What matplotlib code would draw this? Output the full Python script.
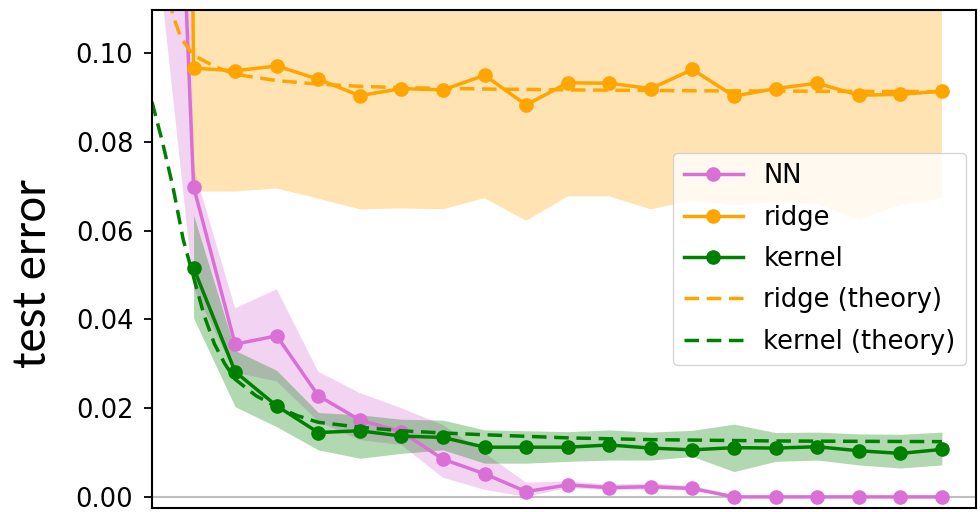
import numpy as np
import matplotlib.pyplot as plt

# experimental points (x = sample index, 0 is an off-scale starting value)
nn_x = list(range(0, 20))
nn_mean = [0.30, 0.0699, 0.0344, 0.0363, 0.0228, 0.0173, 0.0147, 0.0085, 0.0052, 0.0012,
           0.0027, 0.0021, 0.0023, 0.0019, 0.0, 0.0, 0.0, 0.0, 0.0, 0.0]
nn_lower = [0.134, 0.047, 0.028, 0.026, 0.017, 0.0128, 0.0117, 0.0043, 0.0016, 0.0,
            0.0020, 0.0015, 0.0017, 0.0014, 0.0, 0.0, 0.0, 0.0, 0.0, 0.0]
nn_upper = [0.90, 0.0743, 0.0425, 0.0468, 0.0282, 0.0234, 0.0200, 0.0162, 0.0099, 0.0032,
            0.0035, 0.0028, 0.0030, 0.0025, 0.0003, 0.0, 0.0, 0.0, 0.0, 0.0]

ridge_x = list(range(0, 20))
ridge_mean = [1.0, 0.0966, 0.0960, 0.0971, 0.0941, 0.0904, 0.0920, 0.0917, 0.0950, 0.0883,
              0.0933, 0.0932, 0.0920, 0.0963, 0.0903, 0.0920, 0.0932, 0.0905, 0.0907, 0.0914]
ridge_lower = [0.90, 0.0688, 0.0688, 0.0695, 0.0672, 0.0648, 0.0650, 0.0648, 0.0673, 0.0622,
               0.0677, 0.0677, 0.0648, 0.0668, 0.0657, 0.0665, 0.0660, 0.0625, 0.0658, 0.0673]
ridge_upper = [1.10, 0.124, 0.123, 0.125, 0.121, 0.116, 0.119, 0.119, 0.123, 0.114,
               0.119, 0.119, 0.119, 0.126, 0.115, 0.118, 0.120, 0.119, 0.116, 0.116]

kernel_x = list(range(1, 20))
kernel_mean = [0.0516, 0.0282, 0.0205, 0.0145, 0.0149, 0.0137, 0.0134, 0.0112, 0.0112, 0.0112,
               0.0117, 0.0110, 0.0106, 0.0111, 0.0110, 0.0113, 0.0104, 0.0098, 0.0107]
kernel_lower = [0.0403, 0.0203, 0.0158, 0.0106, 0.0087, 0.0098, 0.0106, 0.0076, 0.0076, 0.0080,
                0.0083, 0.0083, 0.0091, 0.0057, 0.0080, 0.0083, 0.0072, 0.0065, 0.0072]
kernel_upper = [0.0635, 0.0330, 0.0285, 0.0190, 0.0185, 0.0175, 0.0173, 0.0151, 0.0149, 0.0147,
                0.0151, 0.0146, 0.0150, 0.0164, 0.0145, 0.0146, 0.0142, 0.0141, 0.0146]

# theory curves
ridge_th_x = [0.3, 0.5, 0.7, 1.0, 1.5, 2, 3, 4, 5, 6, 8, 10, 13, 16, 19]
ridge_th_y = [0.118, 0.1086, 0.1033, 0.0995, 0.0970, 0.0952, 0.0938, 0.0930, 0.0925, 0.0922,
              0.0919, 0.0917, 0.0915, 0.0914, 0.0913]
kernel_th_x = [0, 0.25, 0.5, 0.75, 1.0, 1.25, 1.5, 1.75, 2, 2.5, 3, 3.5, 4, 5, 6, 7, 8, 10, 12, 15, 19]
kernel_th_y = [0.089, 0.080, 0.070, 0.058, 0.0495, 0.041, 0.0345, 0.030, 0.0265, 0.0228, 0.0203,
               0.0183, 0.0168, 0.0157, 0.0149, 0.0144, 0.0140, 0.0133, 0.0129, 0.0126, 0.01245]

yticks = [0.00, 0.02, 0.04, 0.06, 0.08, 0.10]


def main():
    fig = plt.figure(figsize=(9.8, 5.12), dpi=100)
    ax = fig.add_axes([152 / 980, 4 / 512, 824 / 980, 498 / 512])

    ax.axhline(0, color="0.75", lw=1.5, zorder=0)

    ax.fill_between(nn_x, nn_lower, nn_upper, color="orchid", alpha=0.3, lw=0)
    ax.fill_between(ridge_x, ridge_lower, ridge_upper, color="orange", alpha=0.3, lw=0)
    ax.fill_between(kernel_x, kernel_lower, kernel_upper, color="green", alpha=0.3, lw=0)

    ax.plot(nn_x, nn_mean, "-o", color="orchid", lw=2.5, ms=9.5, label="NN")
    ax.plot(ridge_x, ridge_mean, "-o", color="orange", lw=2.5, ms=9.5, label="ridge")
    ax.plot(kernel_x, kernel_mean, "-o", color="green", lw=2.5, ms=9.5, label="kernel")
    ax.plot(ridge_th_x, ridge_th_y, "--", color="orange", lw=2.5, dashes=(4.2, 2.2),
            label="ridge (theory)")
    ax.plot(kernel_th_x, kernel_th_y, "--", color="green", lw=2.5, dashes=(4.2, 2.2),
            label="kernel (theory)")

    ax.set_xlim(0, 19.82)
    ax.set_ylim(-0.0025, 0.1097)
    ax.set_xticks([])
    ax.set_yticks(yticks)
    ax.set_yticklabels([f"{v:.2f}" for v in yticks])
    ax.tick_params(axis="y", labelsize=18.5, length=5.5, width=1.3, pad=8)
    for s in ax.spines.values():
        s.set_linewidth(1.5)

    fig.text(0.034, 0.466, "test error", rotation=90, ha="center", va="center",
             fontsize=33, family="Lato")

    ax.legend(loc="center right", fontsize=18.5, handlelength=2.3, labelspacing=0.6,
              borderaxespad=0.4)

    fig.savefig("out.png", dpi=100)
    plt.close(fig)


if __name__ == "__main__":
    main()
